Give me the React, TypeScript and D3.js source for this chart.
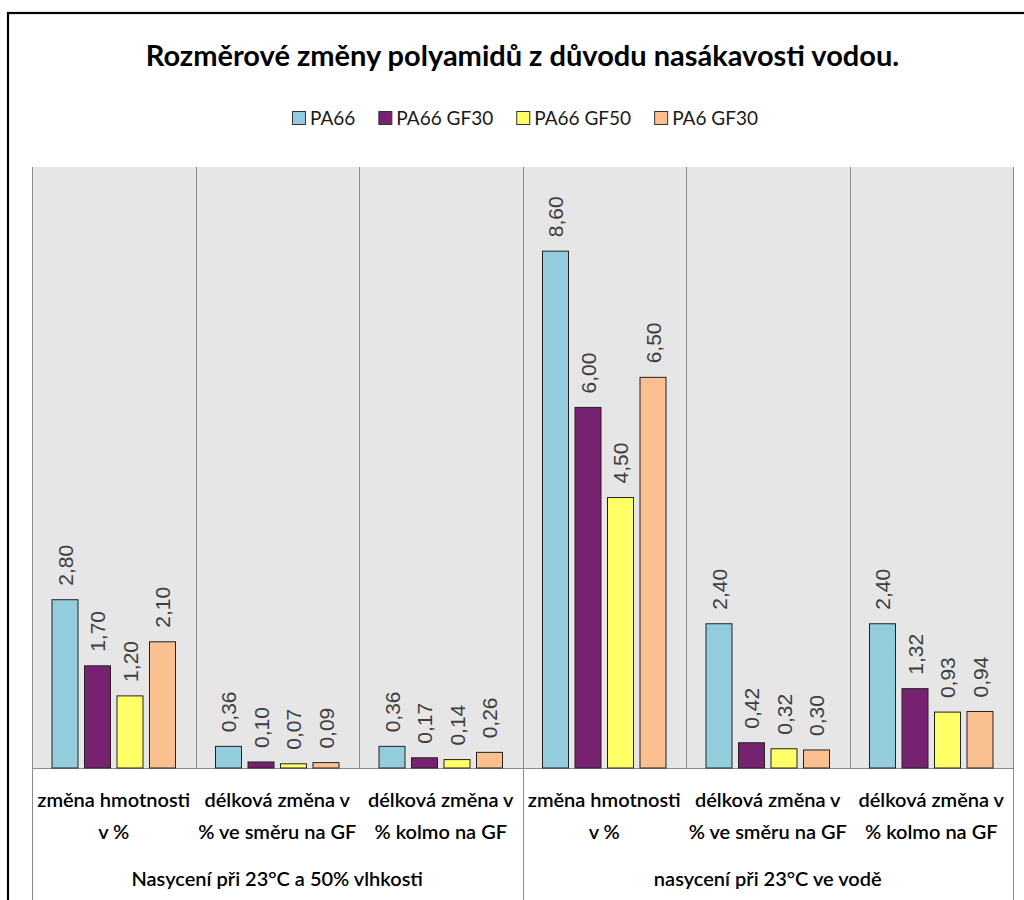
import React, { useEffect, useRef } from "react";
import * as d3 from "d3";

const title = "Rozměrové změny polyamidů z důvodu nasákavosti vodou.";
const seriesNames = ["PA66", "PA66 GF30", "PA66 GF50", "PA6 GF30"];
const seriesColors = ["#93CDDD", "#772270", "#FFFF66", "#FAC090"];
const categoryLines = [
  ["změna hmotnosti", "v %"],
  ["délková změna v", "% ve směru na GF"],
  ["délková změna v", "% kolmo na GF"],
  ["změna hmotnosti", "v %"],
  ["délková změna v", "% ve směru na GF"],
  ["délková změna v", "% kolmo na GF"],
];
const groupLabels = ["Nasycení při 23°C a 50% vlhkosti", "nasycení při 23°C ve vodě"];
const pa66 = [2.8, 0.36, 0.36, 8.6, 2.4, 2.4];
const pa66gf30 = [1.7, 0.1, 0.17, 6.0, 0.42, 1.32];
const pa66gf50 = [1.2, 0.07, 0.14, 4.5, 0.32, 0.93];
const pa6gf30 = [2.1, 0.09, 0.26, 6.5, 0.3, 0.94];
const seriesValues = [pa66, pa66gf30, pa66gf50, pa6gf30];
const yDomain = [0, 10];

const W = 1024;
const H = 900;
const plot = { left: 32, right: 1013, top: 167, bottom: 768 };
const FONT = "Lato, 'Open Sans', sans-serif";

export default function App() {
  const ref = useRef<SVGSVGElement | null>(null);

  useEffect(() => {
    const svg = d3.select(ref.current);
    svg.selectAll("*").remove();

    // outer frame
    svg.append("rect")
      .attr("x", 8).attr("y", 13).attr("width", 1040).attr("height", 920)
      .attr("fill", "#fff").attr("stroke", "#000").attr("stroke-width", 2.2);

    // plot background
    svg.append("rect")
      .attr("x", plot.left).attr("y", plot.top)
      .attr("width", plot.right - plot.left).attr("height", plot.bottom - plot.top)
      .attr("fill", "#E6E6E6");

    const cats = categoryLines.map((_, i) => String(i));
    const x0 = d3.scaleBand<string>().domain(cats).range([plot.left, plot.right]).padding(0);
    const bw = x0.bandwidth();
    const x1 = d3.scaleBand<string>().domain(seriesNames).range([20, bw - 20]).paddingInner(0.2).paddingOuter(0);
    const y = d3.scaleLinear().domain(yDomain).range([plot.bottom, plot.top]);

    // category separators
    const sepColor = "#8C8C8C";
    cats.forEach((c) => {
      const xs = Math.round(x0(c)!) + 0.5;
      svg.append("line")
        .attr("x1", xs).attr("x2", xs).attr("y1", plot.top).attr("y2", plot.bottom)
        .attr("stroke", sepColor).attr("stroke-width", 1);
    });
    const xr = Math.round(plot.right) + 0.5;
    svg.append("line").attr("x1", xr).attr("x2", xr).attr("y1", plot.top).attr("y2", H)
      .attr("stroke", sepColor).attr("stroke-width", 1);
    // group separators below axis
    [0, 3].forEach((gi) => {
      const xs = Math.round(x0(cats[gi])!) + 0.5;
      svg.append("line").attr("x1", xs).attr("x2", xs).attr("y1", plot.bottom).attr("y2", H)
        .attr("stroke", sepColor).attr("stroke-width", 1);
    });
    // baseline
    svg.append("line").attr("x1", plot.left).attr("x2", plot.right)
      .attr("y1", plot.bottom + 0.5).attr("y2", plot.bottom + 0.5)
      .attr("stroke", sepColor).attr("stroke-width", 1);

    // bars
    seriesNames.forEach((s, si) => {
      const g = svg.append("g");
      seriesValues[si].forEach((v, ci) => {
        const bx = x0(cats[ci])! + x1(s)!;
        const by = y(v);
        g.append("rect")
          .attr("x", bx).attr("y", by)
          .attr("width", x1.bandwidth()).attr("height", y(0) - by)
          .attr("fill", seriesColors[si]).attr("stroke", "#222").attr("stroke-width", 1);
        const cx = bx + x1.bandwidth() / 2;
        const ly = by - 14;
        g.append("text")
          .attr("transform", `translate(${cx},${ly}) rotate(-90)`)
          .attr("dy", "0.36em")
          .attr("font-family", "'Liberation Sans', Arial, sans-serif")
          .attr("font-size", 21)
          .attr("fill", "#404040")
          .text(v.toFixed(2).replace(".", ","));
      });
    });

    // category labels
    cats.forEach((c, ci) => {
      const cx = x0(c)! + bw / 2;
      categoryLines[ci].forEach((line, li) => {
        svg.append("text")
          .attr("x", cx).attr("y", 807 + li * 31.5)
          .attr("text-anchor", "middle")
          .attr("font-family", FONT).attr("font-weight", 600).attr("font-size", 20)
          .attr("fill", "#000")
          .text(line);
      });
    });

    // group labels
    groupLabels.forEach((gl, gi) => {
      const a = x0(cats[gi * 3])!;
      const b = x0(cats[gi * 3 + 2])! + bw;
      svg.append("text")
        .attr("x", (a + b) / 2).attr("y", 886)
        .attr("text-anchor", "middle")
        .attr("font-family", FONT).attr("font-weight", 600).attr("font-size", 20)
        .attr("fill", "#000")
        .text(gl);
    });

    // title
    svg.append("text")
      .attr("x", (plot.left + plot.right) / 2).attr("y", 66)
      .attr("text-anchor", "middle")
      .attr("font-family", FONT).attr("font-weight", 700).attr("font-size", 29)
      .attr("fill", "#000")
      .text(title);

    // legend
    const lg = svg.append("g");
    let cursor = 0;
    const sq = 13;
    seriesNames.forEach((s, si) => {
      const it = lg.append("g").attr("transform", `translate(${cursor},0)`);
      it.append("rect").attr("x", 0.5).attr("y", 111.5).attr("width", sq).attr("height", sq)
        .attr("fill", seriesColors[si]).attr("stroke", "#333").attr("stroke-width", 1);
      const t = it.append("text").attr("x", sq + 5).attr("y", 125)
        .attr("font-family", FONT).attr("font-size", 19).attr("fill", "#1a1a1a").text(s);
      const tw = (t.node() as SVGTextElement).getComputedTextLength();
      cursor += sq + 5 + tw + (si < seriesNames.length - 1 ? 23 : 0);
    });
    const lx = 525 - cursor / 2;
    lg.attr("transform", `translate(${lx},0)`);
  }, []);

  return (
    <svg
      ref={ref}
      width={W}
      height={H}
      style={{ position: "absolute", left: 0, top: 0, display: "block" }}
    />
  );
}
